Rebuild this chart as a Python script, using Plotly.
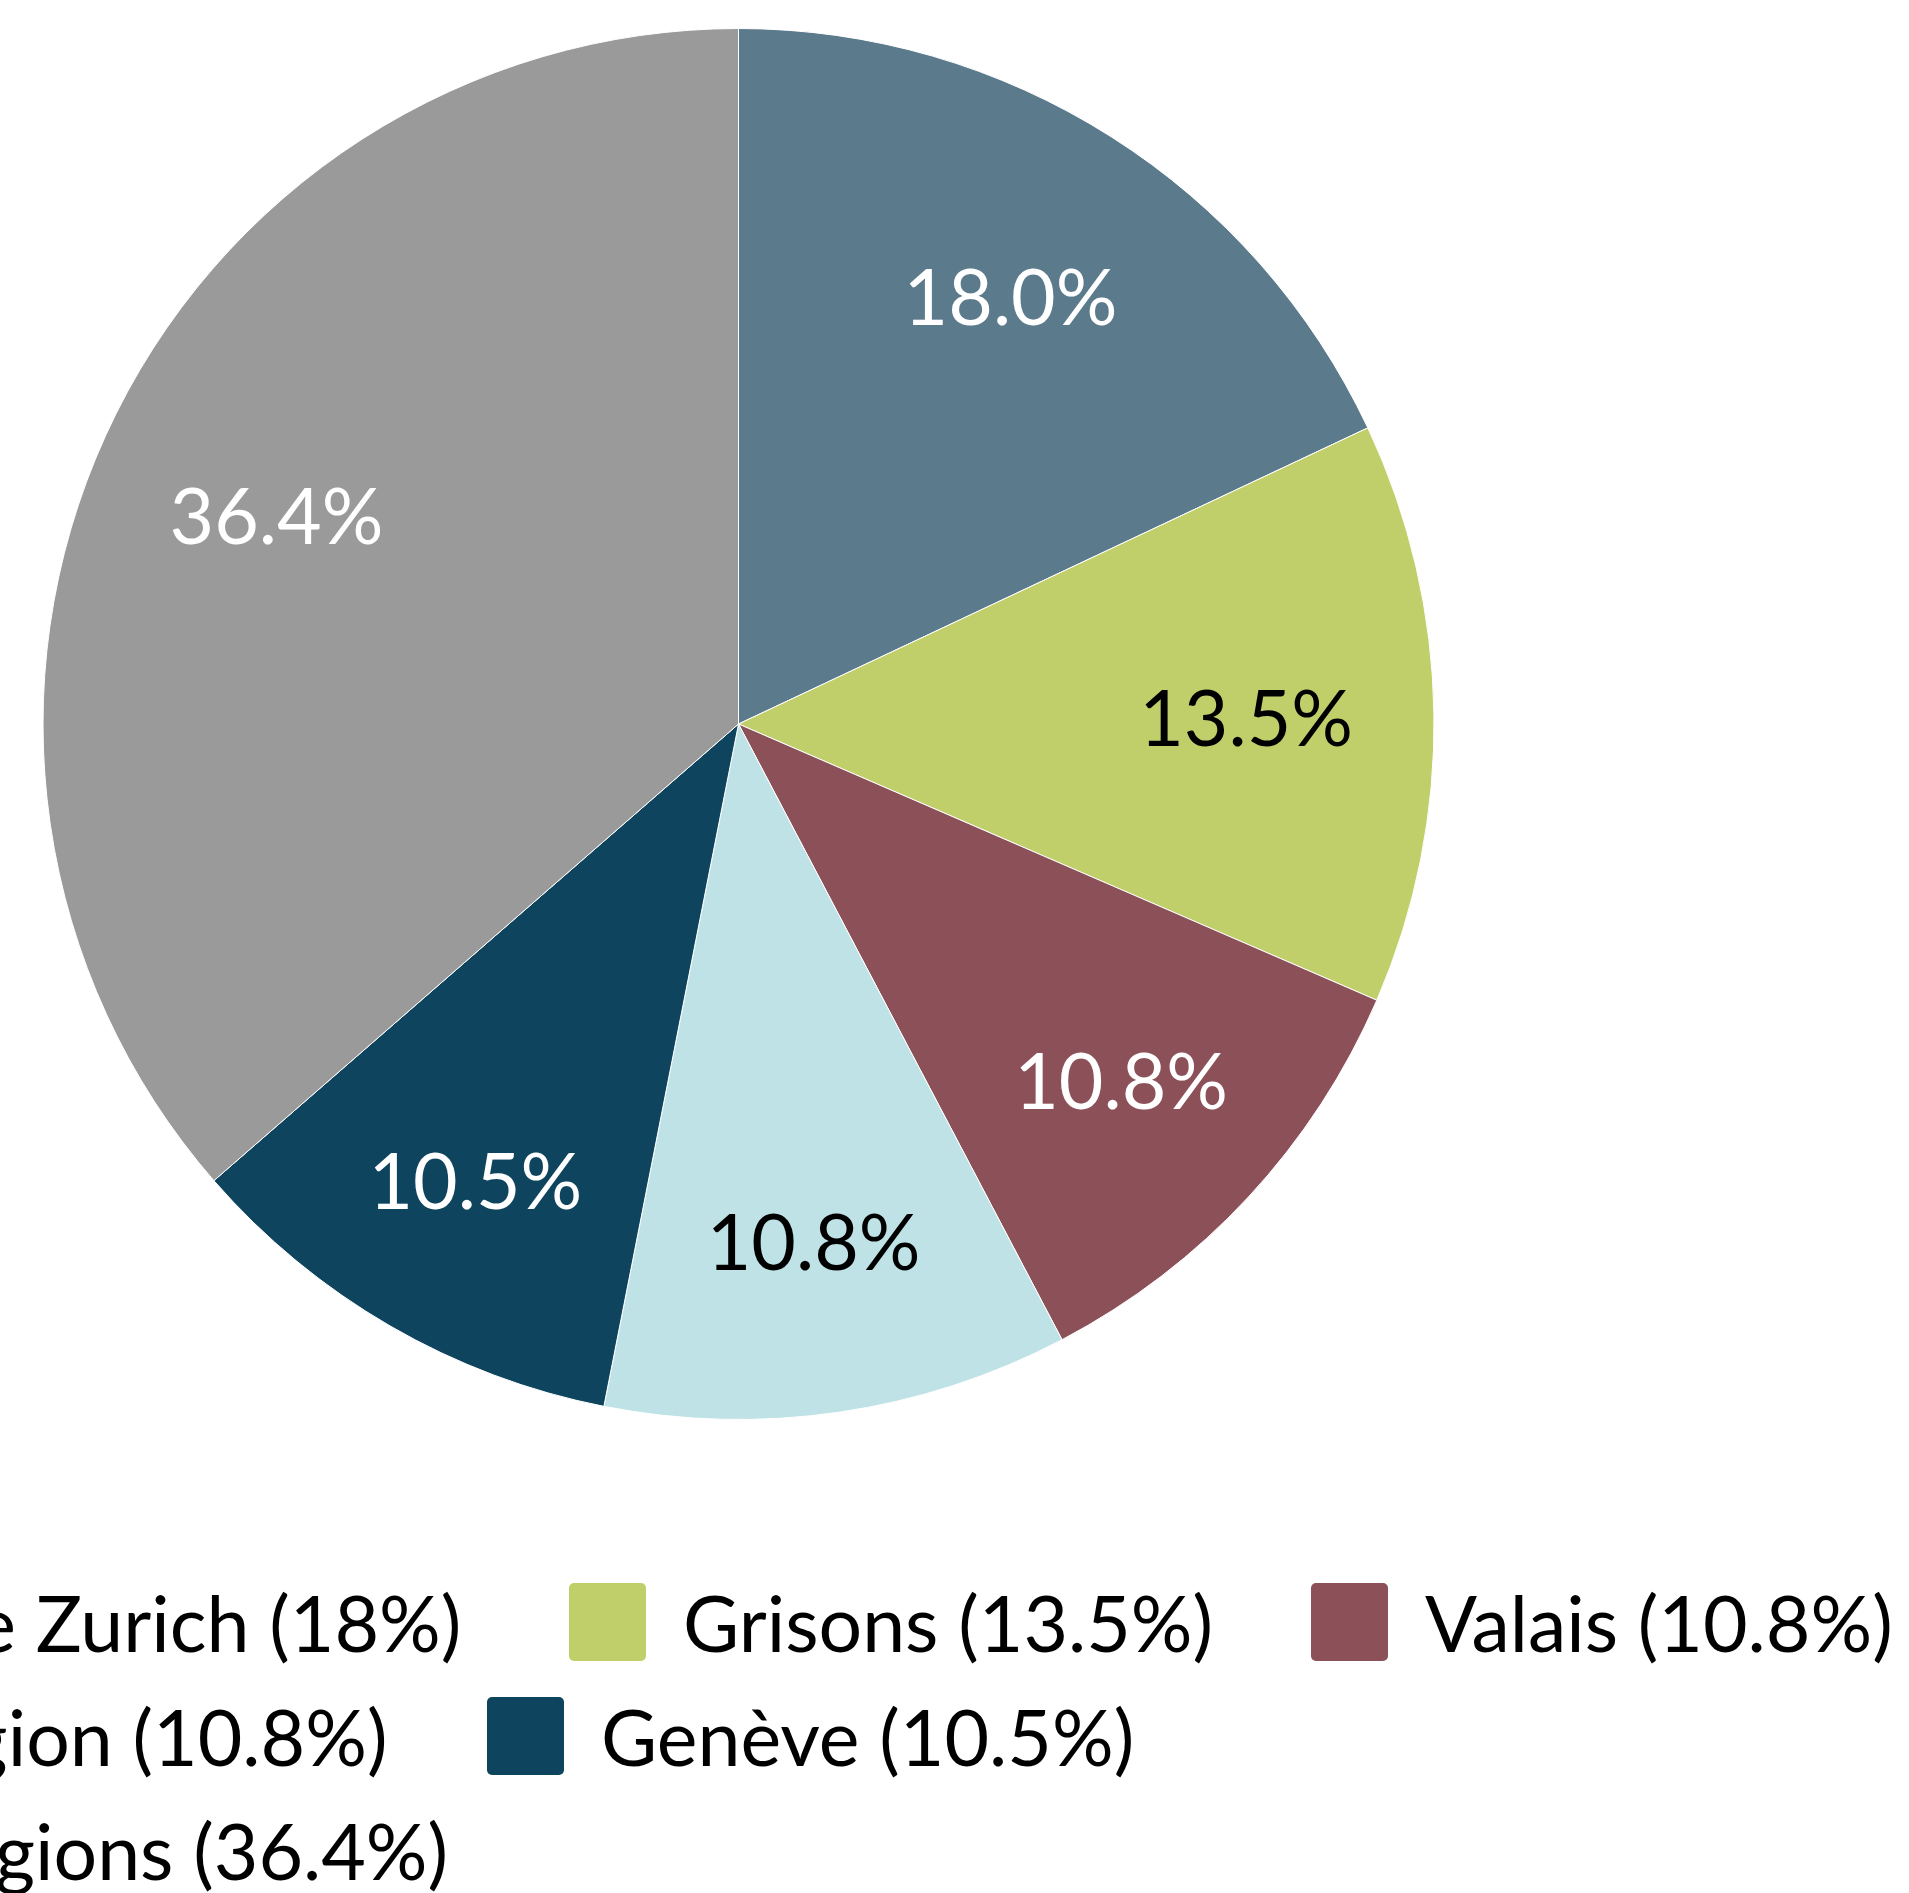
import plotly.graph_objects as go

# ---- data ----
regions = ["Région de Zurich", "Grisons", "Valais", "Berne Région", "Genève", "Autres régions"]
shares = [18.0, 13.5, 10.8, 10.8, 10.5, 36.4]
colors = ["#5b7a8b", "#c1cf6a", "#8b5058", "#bfe2e6", "#0e445e", "#9a9a9a"]
text_colors = ["white", "black", "white", "black", "white", "white"]
legend_labels = [f"{r} ({s:g}%)" for r, s in zip(regions, shares)]

# ---- layout constants (pixels) ----
W, H = 1909, 1893
M_T, M_B = 28, 473
PLOT_H = H - M_T - M_B
FS = 77
legend_px = [(-470, 1565.5), (532, 1565.5), (1274, 1565.5),
             (-491, 1679.5), (450, 1679.5),
             (-465, 1793.5)]
pie_domain = dict(x=[43 / W, 1434 / W], y=[0, 1])

fig = go.Figure()
# coloured slices
fig.add_trace(go.Pie(
    labels=regions, values=shares, sort=False, direction="clockwise", rotation=0,
    marker=dict(colors=colors, line=dict(color="white", width=1)),
    textinfo="none", domain=pie_domain,
    showlegend=False, hoverinfo="label+percent",
))
# percentage labels (transparent ring so labels sit in the outer part of each slice)
fig.add_trace(go.Pie(
    labels=regions, values=shares, sort=False, direction="clockwise", rotation=0,
    hole=0.46,
    marker=dict(colors=["rgba(0,0,0,0)"] * len(regions), line=dict(width=0)),
    texttemplate="%{value:.1f}%", textposition="inside",
    insidetextorientation="horizontal",
    textfont=dict(family="Lato", size=FS, color=text_colors),
    domain=pie_domain, showlegend=False, hoverinfo="skip",
))

legend_ids = ["legend", "legend2", "legend3", "legend4", "legend5", "legend6"]
for lab, col, lid in zip(legend_labels, colors, legend_ids):
    fig.add_trace(go.Scatter(
        x=[None], y=[None], mode="markers", name=lab, legend=lid,
        marker=dict(symbol="square", size=16, color=col),
        showlegend=True, hoverinfo="skip",
    ))

legends = {}
for lid, (lx, ly) in zip(legend_ids, legend_px):
    legends[lid] = dict(
        x=lx / W, y=1 - (ly - M_T) / PLOT_H, xanchor="left", yanchor="top",
        orientation="h", font=dict(family="Lato", size=FS, color="black"),
        itemwidth=141, bgcolor="rgba(0,0,0,0)", borderwidth=0,
        itemclick=False, itemdoubleclick=False,
    )

fig.update_layout(
    width=W, height=H,
    margin=dict(l=0, r=0, t=M_T, b=M_B, autoexpand=False),
    paper_bgcolor="white", plot_bgcolor="white",
    xaxis=dict(visible=False), yaxis=dict(visible=False),
    font=dict(family="Lato"),
    **legends,
)

post = """
var gd = document.getElementById('{plot_id}');
function fixSw(){
  var pts = gd.querySelectorAll('.infolayer .legendpoints path.scatterpts');
  pts.forEach(function(p){
    p.setAttribute('d', 'M-33.5,-39H33.5A5,5 0 0 1 38.5,-34V34A5,5 0 0 1 33.5,39H-33.5A5,5 0 0 1 -38.5,34V-34A5,5 0 0 1 -33.5,-39Z');
  });
}
fixSw();
gd.on('plotly_afterplot', fixSw);
"""
fig.write_html("out.html", post_script=post, config={"displayModeBar": False})
